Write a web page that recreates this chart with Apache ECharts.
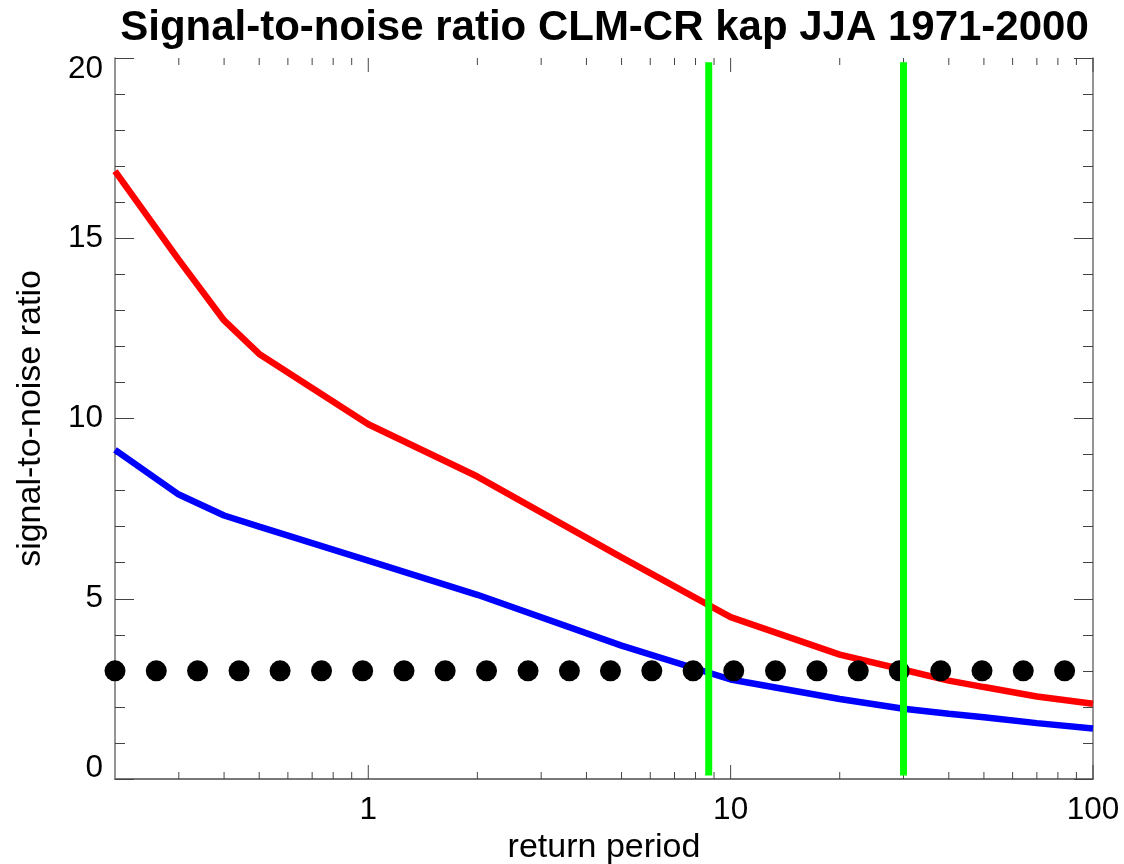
<!DOCTYPE html>
<html><head><meta charset="utf-8">
<script src="https://cdn.jsdelivr.net/npm/echarts@6/dist/echarts.min.js"></script>
<style>html,body{margin:0;padding:0;background:#fff}#c{width:1124px;height:864px}</style>
</head><body><div id="c"></div>
<script>
const titleText = 'Signal-to-noise ratio CLM-CR kap JJA 1971-2000';
const xName = 'return period';
const yName = 'signal-to-noise ratio';
const returnPeriods = [0.2, 0.3, 0.4, 0.5, 1, 2, 5, 10, 20, 30, 40, 50, 70, 100];
const redValues  = [16.86, 14.4, 12.72, 11.79, 9.84, 8.39, 6.15, 4.49, 3.45, 3.03, 2.73, 2.55, 2.29, 2.09];
const blueValues = [9.13, 7.89, 7.31, 7.0, 6.06, 5.11, 3.70, 2.76, 2.22, 1.95, 1.81, 1.71, 1.55, 1.40];
const dotX = [0.2, 0.26, 0.338, 0.44, 0.571, 0.743, 0.965, 1.255, 1.63, 2.12, 2.76, 3.59,
              4.66, 6.06, 7.88, 10.2, 13.3, 17.3, 22.5, 29.2, 38.0, 49.4, 64.2, 83.5];
const dotLevel = 3;
const greenX = [8.7, 30];
const greenY = [0.1, 19.88];
const xMajorTicks = [1, 10, 100];
const xMinorTicks = [0.3, 0.4, 0.5, 0.6, 0.7, 0.8, 0.9, 2, 3, 4, 5, 6, 7, 8, 9,
                     20, 30, 40, 50, 60, 70, 80, 90];
const xRange = [0.2, 100];
const yRange = [0, 20];
const yStep = 5;

const FONT = 'Liberation Sans, Arial, Helvetica, sans-serif';
const AXIS_COLOR = '#707070';
const TICK_COLOR = '#444444';

const chart = echarts.init(document.getElementById('c'), null, {renderer: 'canvas'});

function xLabel(v) {
  for (const m of xMajorTicks) {
    if (Math.abs(v - m) < 1e-6 * m) return String(m);
  }
  return '';
}

const xAxisBase = {
  type: 'log', logBase: 10, min: xRange[0], max: xRange[1],
  axisLine: {show: true, lineStyle: {color: AXIS_COLOR, width: 1.5}},
  axisTick: {show: false},
  minorTick: {show: false},
  splitLine: {show: false}
};
const yAxisBase = {
  type: 'value', min: yRange[0], max: yRange[1], interval: yStep,
  axisLine: {show: true, lineStyle: {color: AXIS_COLOR, width: 1.5}},
  axisTick: {show: true, inside: true, length: 19, lineStyle: {color: TICK_COLOR, width: 1}},
  minorTick: {show: true, splitNumber: 5, length: 10, lineStyle: {color: TICK_COLOR, width: 1}},
  splitLine: {show: false}
};

// x-axis ticks (top and bottom, pointing inward) drawn through the log scale
const tickData = xMajorTicks.map(v => [v, yRange[0], 14]).concat(xMinorTicks.map(v => [v, yRange[0], 7]));

const series = [
  {
    type: 'custom', name: 'xticks', silent: true, z: 1, clip: false,
    data: tickData,
    renderItem: function (params, api) {
      const v = api.value(0);
      const len = api.value(2);
      const pb = api.coord([v, yRange[0]]);
      const pt = api.coord([v, yRange[1]]);
      const st = {stroke: TICK_COLOR, lineWidth: 1};
      return {type: 'group', children: [
        {type: 'line', shape: {x1: pb[0], y1: pb[1], x2: pb[0], y2: pb[1] - len}, style: st},
        {type: 'line', shape: {x1: pt[0], y1: pt[1], x2: pt[0], y2: pt[1] + len}, style: st}
      ]};
    }
  },
  {
    type: 'line', name: 'red', z: 3, symbol: 'none', silent: true,
    data: returnPeriods.map((x, i) => [x, redValues[i]]),
    lineStyle: {color: '#ff0000', width: 6.5}
  },
  {
    type: 'line', name: 'blue', z: 3, symbol: 'none', silent: true,
    data: returnPeriods.map((x, i) => [x, blueValues[i]]),
    lineStyle: {color: '#0000ff', width: 6.5}
  },
  {
    type: 'scatter', name: 'dots', z: 4, silent: true, clip: false,
    symbol: 'circle', symbolSize: 21,
    itemStyle: {color: '#000000', opacity: 1},
    data: dotX.map(x => [x, dotLevel])
  }
];
greenX.forEach((gx, i) => {
  series.push({
    type: 'line', name: 'green' + i, z: 5, symbol: 'none', silent: true,
    data: greenY.map(y => [gx, y]),
    lineStyle: {color: '#00ff00', width: 7, cap: 'butt'}
  });
});

chart.setOption({
  animation: false,
  backgroundColor: '#ffffff',
  textStyle: {fontFamily: FONT},
  title: {
    text: titleText, left: 604.5, top: 7, textAlign: 'center', padding: 0,
    textStyle: {fontFamily: FONT, fontSize: 42, fontWeight: 'bold', color: '#000'}
  },
  grid: {left: 115, right: 31, top: 58, bottom: 85, containLabel: false, outerBoundsMode: 'none'},
  xAxis: [
    Object.assign({}, xAxisBase, {
      position: 'bottom',
      name: xName, nameLocation: 'middle', nameGap: 50,
      nameTextStyle: {fontFamily: FONT, fontSize: 34, color: '#000'},
      axisLabel: {show: true, margin: 15, fontFamily: FONT, fontSize: 31.5, color: '#000',
                  formatter: xLabel, showMinLabel: true, showMaxLabel: true, hideOverlap: false}
    }),
    Object.assign({}, xAxisBase, {position: 'top', axisLabel: {show: false}})
  ],
  yAxis: [
    Object.assign({}, yAxisBase, {
      position: 'left',
      name: yName, nameLocation: 'middle', nameGap: 67,
      nameTextStyle: {fontFamily: FONT, fontSize: 34, color: '#000'},
      axisLabel: {show: true, margin: 12, fontFamily: FONT, fontSize: 31.5, color: '#000',
                  lineHeight: 22,
                  verticalAlignMinLabel: 'bottom', verticalAlignMaxLabel: 'top'}
    }),
    Object.assign({}, yAxisBase, {position: 'right', axisLabel: {show: false}})
  ],
  series: series
});
</script>
</body></html>
